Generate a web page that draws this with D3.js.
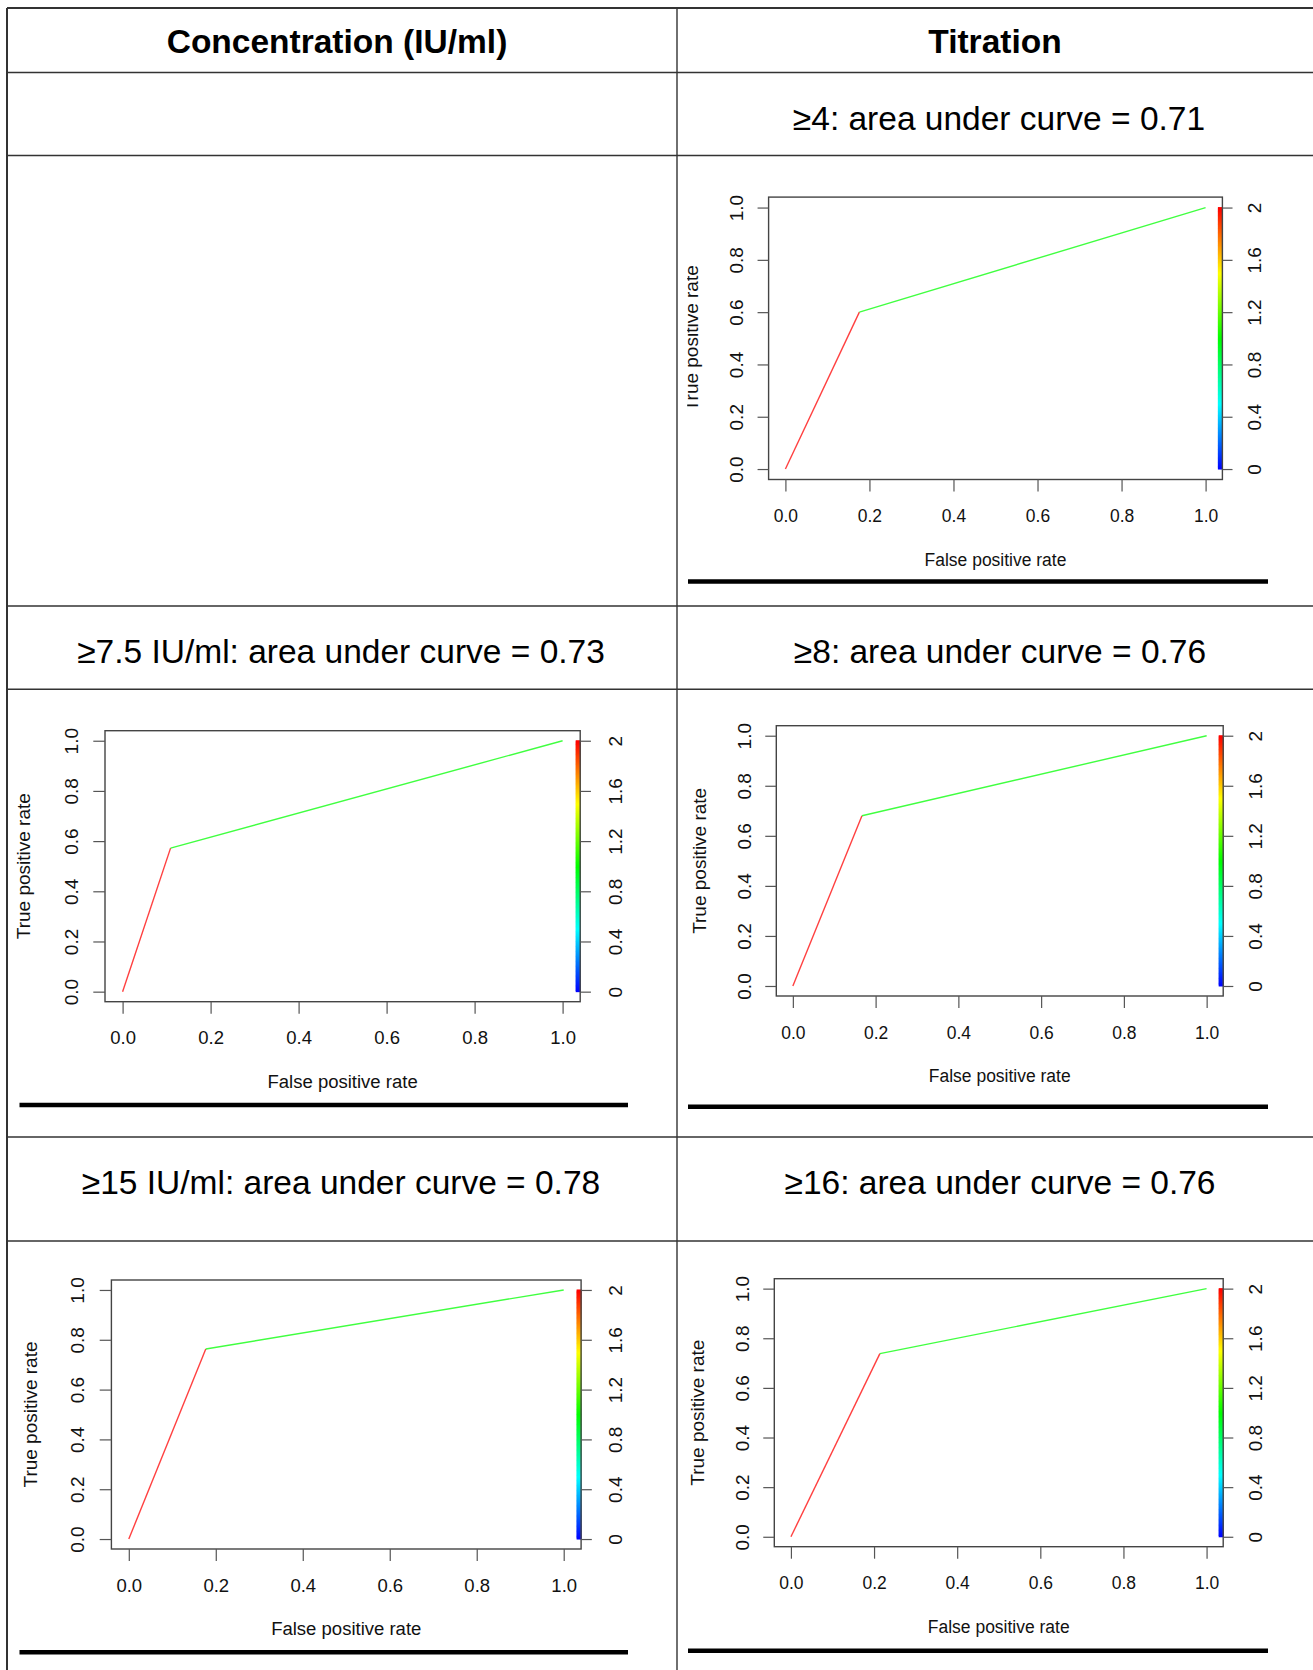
<!DOCTYPE html>
<html>
  <head>
    <meta charset="utf-8">
    <title>ROC curves</title>
    <script src="https://d3js.org/d3.v7.min.js"></script>
    <style>
      body { margin: 0; background: #fff; }
      svg { display: block; font-family: "Liberation Sans", Arial, sans-serif; }
      .tick line { stroke: #555; stroke-width: 1.2; }
      .tick text { font-size: 19px; fill: #111; }
    </style>
  </head>
  <body>
    <svg id="chart" width="1313" height="1670"></svg>
    <script>
      // column headers and panel titles
      var headers = ["Concentration (IU/ml)", "Titration"];
      var panelTitles = [
        "≥4: area under curve = 0.71",
        "≥7.5 IU/ml: area under curve = 0.73",
        "≥8: area under curve = 0.76",
        "≥15 IU/ml: area under curve = 0.78",
        "≥16: area under curve = 0.76"
      ];
      // roc points (false / true positive rate)
      var fprValues = [
        [0, 0.176, 1],
        [0, 0.109, 1],
        [0, 0.167, 1],
        [0, 0.177, 1],
        [0, 0.214, 1]
      ];
      var tprValues = [
        [0, 0.600, 1],
        [0, 0.572, 1],
        [0, 0.680, 1],
        [0, 0.763, 1],
        [0, 0.738, 1]
      ];
      // cutoff of each segment (colour key 0..2)
      var segmentCutoffs = [2, 1];
      var xTicks = [0, 0.2, 0.4, 0.6, 0.8, 1.0];
      var yTicks = [0, 0.2, 0.4, 0.6, 0.8, 1.0];
      var cTicks = [0, 0.4, 0.8, 1.2, 1.6, 2];
      var cLabels = ["0", "0.4", "0.8", "1.2", "1.6", "2"];

      // layout of the table and the five plots
      var rowLines = [72.5, 155.5, 606, 689.3, 1137, 1241];
      var panels = [
        { box: [768.6, 197.1, 1222.4, 479.5], hs: 0.92, tx: 999, ty: 129.5, ul: [688, 1268, 581.6], clip: 687.2 },
        { box: [105, 730.7, 580.2, 1001.7], hs: 0.975, tx: 341, ty: 663, ul: [19.5, 628, 1105] },
        { box: [776.3, 725.7, 1223.2, 996], hs: 0.92, tx: 1000, ty: 663, ul: [688, 1268, 1106.7] },
        { box: [111.4, 1280, 581.1, 1549], hs: 0.975, tx: 341, ty: 1194, ul: [19.5, 628, 1652.3] },
        { box: [774.3, 1278.7, 1223.2, 1546.7], hs: 0.92, tx: 1000, ty: 1194, ul: [688, 1268, 1650.7] }
      ];

      var svg = d3.select("#chart");
      var fmt = d3.format(".1f");
      // R style rainbow: 0 -> blue, 2 -> red
      function rainbow(c) { return d3.hsl(240 * (1 - c / 2), 1, 0.5) + ""; }

      // table grid
      var grid = svg.append("g").attr("stroke", "#333").attr("fill", "none");
      grid.append("line").attr("x1", 7).attr("x2", 1313).attr("y1", 8).attr("y2", 8).attr("stroke-width", 2);
      grid.append("line").attr("x1", 7).attr("x2", 7).attr("y1", 8).attr("y2", 1670).attr("stroke-width", 2);
      grid.append("line").attr("x1", 677).attr("x2", 677).attr("y1", 8).attr("y2", 1670).attr("stroke-width", 1.4);
      grid.selectAll(".row").data(rowLines).enter().append("line")
        .attr("x1", 7).attr("x2", 1313)
        .attr("y1", function(d) { return d; }).attr("y2", function(d) { return d; })
        .attr("stroke-width", 1.4);

      svg.selectAll(".header").data(headers).enter().append("text")
        .attr("x", function(d, i) { return i ? 995 : 337; })
        .attr("y", 52.8)
        .attr("text-anchor", "middle")
        .attr("font-size", 33.5)
        .attr("font-weight", "bold")
        .text(function(d) { return d; });

      panels.forEach(function(p, i) {
        var L = p.box[0], T = p.box[1], R = p.box[2], B = p.box[3], hs = p.hs;
        var x = d3.scaleLinear().domain([-0.04, 1.04]).range([L, R]);
        var y = d3.scaleLinear().domain([-0.04, 1.04]).range([B, T]);
        var c = d3.scaleLinear().domain([0, 2]).range([y(0), y(1)]);
        var g = svg.append("g");

        g.append("text")
          .attr("x", p.tx).attr("y", p.ty)
          .attr("text-anchor", "middle")
          .attr("font-size", 33.5)
          .text(panelTitles[i]);

        // colour key strip
        var steps = d3.range(0, 2, 2 / 200);
        g.append("g").selectAll("rect").data(steps).enter().append("rect")
          .attr("x", R - 4.5)
          .attr("width", 5)
          .attr("y", function(d) { return c(d + 2 / 200) - 0.5; })
          .attr("height", function(d) { return c(d) - c(d + 2 / 200) + 1; })
          .attr("fill", function(d) { return rainbow(d + 1 / 200); });

        // roc segments coloured by cutoff
        var fpr = fprValues[i], tpr = tprValues[i];
        g.append("g").selectAll("line").data(segmentCutoffs).enter().append("line")
          .attr("x1", function(d, j) { return x(fpr[j]); })
          .attr("y1", function(d, j) { return y(tpr[j]); })
          .attr("x2", function(d, j) { return x(fpr[j + 1]); })
          .attr("y2", function(d, j) { return y(tpr[j + 1]); })
          .attr("stroke", function(d) { return rainbow(d); })
          .attr("stroke-width", 1.4)
          .attr("stroke-opacity", 0.75);

        g.append("rect")
          .attr("x", L).attr("y", T).attr("width", R - L).attr("height", B - T)
          .attr("fill", "none").attr("stroke", "#444").attr("stroke-width", 1.4);

        // bottom axis
        var xa = g.append("g").attr("transform", "translate(0," + B + ")")
          .call(d3.axisBottom(x).tickValues(xTicks).tickSize(12).tickFormat(fmt));
        xa.select(".domain").remove();
        xa.selectAll(".tick text")
          .attr("y", null).attr("dy", null)
          .attr("transform", "translate(0,42.5) scale(" + hs + ",1)");

        // left axis
        var ya = g.append("g").attr("transform", "translate(" + L + ",0)")
          .call(d3.axisLeft(y).tickValues(yTicks).tickSize(12 * hs).tickFormat(fmt));
        ya.select(".domain").remove();
        ya.selectAll(".tick text")
          .attr("x", null).attr("dy", null)
          .attr("text-anchor", "middle")
          .attr("transform", "translate(" + (-28 * hs) + ",0) scale(" + hs + ",1) rotate(-90)");

        // colour key axis
        var ca = g.append("g").attr("transform", "translate(" + R + ",0)")
          .call(d3.axisRight(c).tickValues(cTicks).tickSize(11 * hs)
            .tickFormat(function(d, k) { return cLabels[k]; }));
        ca.select(".domain").remove();
        ca.selectAll(".tick text")
          .attr("x", null).attr("dy", null)
          .attr("text-anchor", "middle")
          .attr("transform", "translate(" + (42.4 * hs) + ",0) scale(" + hs + ",1) rotate(-90)");

        // axis titles
        g.append("text")
          .attr("transform", "translate(" + ((L + R) / 2) + "," + (B + 86) + ") scale(" + hs + ",1)")
          .attr("text-anchor", "middle")
          .attr("font-size", 19).attr("fill", "#111")
          .text("False positive rate");

        // the first plot's y title is cut at its left edge in the original
        var yg = g.append("g");
        if (p.clip) {
          g.append("clipPath").attr("id", "clip" + i)
            .append("rect").attr("x", p.clip).attr("y", T - 40).attr("width", 400).attr("height", B - T + 80);
          yg.attr("clip-path", "url(#clip" + i + ")");
        }
        yg.append("text")
          .attr("transform", "translate(" + (L - 76.8 * hs) + "," + ((T + B) / 2) + ") scale(" + hs + ",1) rotate(-90)")
          .attr("text-anchor", "middle")
          .attr("font-size", 19).attr("fill", "#111")
          .text("True positive rate");

        g.append("line")
          .attr("x1", p.ul[0]).attr("x2", p.ul[1])
          .attr("y1", p.ul[2]).attr("y2", p.ul[2])
          .attr("stroke", "#000").attr("stroke-width", 4.5);
      });
    </script>
  </body>
</html>
